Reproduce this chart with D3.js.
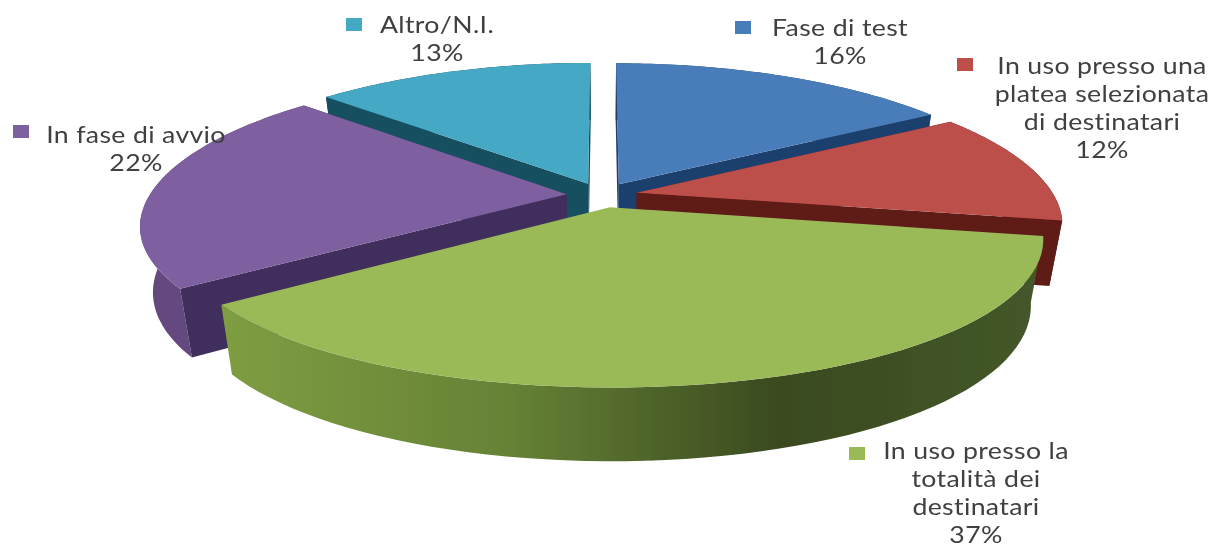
<!DOCTYPE html>
<html>
<head>
<meta charset="utf-8">
<script src="https://cdn.jsdelivr.net/npm/d3@7"></script>
<style>
    html, body { margin: 0; padding: 0; background: #fff; overflow: hidden; }
    svg { display: block; }
    text { font-family: Lato, "Noto Sans", sans-serif; font-size: 23px; letter-spacing: 0.3px; fill: #3f3f3f; text-anchor: middle; }
</style>
</head>
<body>
<div id="chart"></div>
<script>
// Data
const categories = ["Fase di test", "In uso presso una platea selezionata di destinatari", "In uso presso la totalità dei destinatari", "In fase di avvio", "Altro/N.I."];
const values = [16, 12, 37, 22, 13];
const percentLabels = ["16%", "12%", "37%", "22%", "13%"];
const labelLines = [
    ["Fase di test"],
    ["In uso presso una", "platea selezionata", "di destinatari"],
    ["In uso presso la", "totalità dei", "destinatari"],
    ["In fase di avvio"],
    ["Altro/N.I."]
];

// Colours per slice: top, cut faces, outer wall
const topColors = ["#4a7dba", "#bd4f4b", "#9aba59", "#7e60a0", "#45a8c4"];
const faceColors = ["#1f3f6d", "#5f1b19", "none", "#412e5c", "#164f5f"];
const wallColors = ["#1f3f6d", "#6a1f1d", "url(#greenWall)", "#64497f", "#164f5f"];

// Where the label blocks sit: centre x, first line y, swatch x and y
const labelLayout = [
    { x: 840, y: 36, sx: 735, sy: 21 },
    { x: 1102, y: 74, sx: 957, sy: 58 },
    { x: 976, y: 459, sx: 849, sy: 447 },
    { x: 136, y: 143, sx: 13, sy: 125 },
    { x: 437, y: 33, sx: 346, sy: 18 }
];
const lineHeight = 28;
const textStretch = 1.16; // the reference text is stretched sideways

const width = 1220, height = 549;

// Perspective settings of the 3D pie
const perspectiveX = 0.2;
const perspectiveY = 0.17;
const explode = 0.085;
const depth = 64;
const depthShrink = 0.028;

const xScale = d3.scaleLinear().domain([-1, 1]).range([602 - 417, 602 + 417]);
const yScale = d3.scaleLinear().domain([-1, 1]).range([195 + 145, 195 - 145]);

// wx to the right, wz towards the back, h 0 on top and 1 on the bottom plane
function project(wx, wz, h) {
    let sx = 1 / (1 + perspectiveX * wz);
    let sy = 1 / (1 + perspectiveY * wz);
    let x = xScale(0) + (xScale(wx) - xScale(0)) * sx * (1 - depthShrink * h);
    let y = yScale(0) + (yScale(wz) - yScale(0)) * sy + depth * Math.pow(sy, 0.7) * h;
    return [x, y];
}

let svg = d3.select("#chart").append("svg")
    .attr("width", width)
    .attr("height", height);

let defs = svg.append("defs");

let gradient = defs.append("linearGradient")
    .attr("id", "greenWall")
    .attr("gradientUnits", "userSpaceOnUse")
    .attr("x1", 218).attr("x2", 1043)
    .attr("y1", 0).attr("y2", 0);
gradient.selectAll("stop")
    .data([[0, "#7f9e42"], [0.35, "#668236"], [0.68, "#3a4a1f"], [1, "#44582a"]])
    .enter()
    .append("stop")
    .attr("offset", d => d[0])
    .attr("stop-color", d => d[1]);

// The reference is a soft, upscaled image
defs.append("filter").attr("id", "soft")
    .append("feGaussianBlur")
    .attr("stdDeviation", 0.6);

let root = svg.append("g").attr("filter", "url(#soft)");

let pie = d3.pie().sort(null).startAngle(0).endAngle(2 * Math.PI);
let slices = pie(values).map((d, i) => {
    let mid = (d.startAngle + d.endAngle) / 2;
    return {
        index: i,
        a0: d.startAngle,
        a1: d.endAngle,
        ox: explode * Math.sin(mid),
        oz: explode * Math.cos(mid)
    };
});

let line = d3.line();

function rim(s, h) {
    let n = 60;
    return d3.range(n + 1).map(i => {
        let a = s.a0 + (s.a1 - s.a0) * i / n;
        return project(s.ox + Math.sin(a), s.oz + Math.cos(a), h);
    });
}

function cutFace(s, a) {
    return [
        project(s.ox, s.oz, 0),
        project(s.ox + Math.sin(a), s.oz + Math.cos(a), 0),
        project(s.ox + Math.sin(a), s.oz + Math.cos(a), 1),
        project(s.ox, s.oz, 1)
    ];
}

// Painter's order, from the back slices to the green one in front
let drawOrder = [4, 0, 3, 1, 2];

drawOrder.forEach(i => {
    let s = slices[i];
    let g = root.append("g").attr("class", "slice");

    g.append("path")
        .attr("d", line(rim(s, 0).concat(rim(s, 1).reverse())) + "Z")
        .attr("fill", wallColors[i]);

    g.append("path")
        .attr("d", line(cutFace(s, s.a0)) + "Z")
        .attr("fill", faceColors[i]);

    g.append("path")
        .attr("d", line(cutFace(s, s.a1)) + "Z")
        .attr("fill", faceColors[i]);

    g.append("path")
        .attr("d", line([project(s.ox, s.oz, 0)].concat(rim(s, 0))) + "Z")
        .attr("fill", topColors[i]);
});

// Labels with their colour swatch
categories.forEach((name, i) => {
    let pos = labelLayout[i];
    let g = root.append("g").attr("class", "label");

    g.append("rect")
        .attr("x", pos.sx)
        .attr("y", pos.sy)
        .attr("width", 16)
        .attr("height", 13)
        .attr("fill", topColors[i]);

    labelLines[i].concat(percentLabels[i]).forEach((t, j) => {
        g.append("text")
            .attr("transform", `translate(${pos.x},${pos.y + j * lineHeight}) scale(${textStretch},1)`)
            .text(t);
    });
});
</script>
</body>
</html>
